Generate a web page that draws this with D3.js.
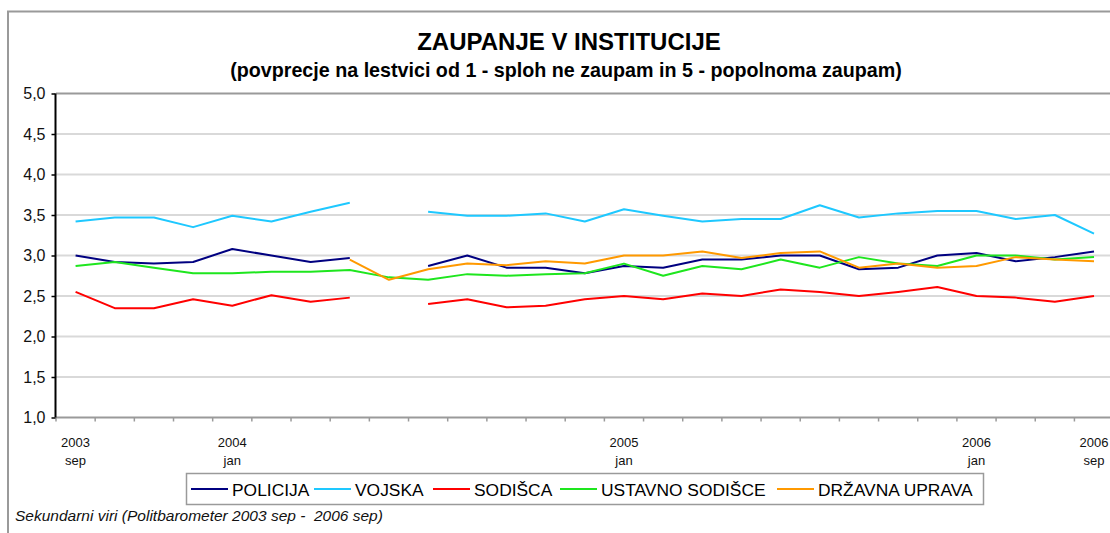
<!DOCTYPE html>
<html>
<head>
<meta charset="utf-8">
<script src="https://cdn.jsdelivr.net/npm/d3@7"></script>
<style>
  body { margin: 0; background: #fff; }
  svg { display: block; font-family: "Liberation Sans", Arial, sans-serif; }
</style>
</head>
<body>
<div id="vis"></div>
<script>

// survey waves, only some of them carry a label
const periods = d3.range(27)
const periodLabels = {0: ["2003", "sep"], 4: ["2004", "jan"], 14: ["2005", "jan"], 23: ["2006", "jan"], 26: ["2006", "sep"]}

const seriesNames = ["POLICIJA", "VOJSKA", "SODIŠCA", "USTAVNO SODIŠCE", "DRŽAVNA UPRAVA"]
const seriesColors = ["#000080", "#1ec8ff", "#ff0000", "#1ee61e", "#ff9900"]

const policija = [3.00, 2.92, 2.90, 2.92, 3.08, 3.00, 2.92, 2.97, null, 2.87, 3.00, 2.85, 2.85, 2.78, 2.87, 2.85, 2.95, 2.95, 3.00, 3.00, 2.83, 2.85, 3.00, 3.03, 2.93, 2.98, 3.05]
const vojska = [3.42, 3.47, 3.47, 3.35, 3.49, 3.42, 3.54, 3.65, null, 3.54, 3.49, 3.49, 3.52, 3.42, 3.57, 3.49, 3.42, 3.45, 3.45, 3.62, 3.47, 3.52, 3.55, 3.55, 3.45, 3.50, 3.27]
const sodisca = [2.55, 2.35, 2.35, 2.46, 2.38, 2.51, 2.43, 2.48, null, 2.40, 2.46, 2.36, 2.38, 2.46, 2.50, 2.46, 2.53, 2.50, 2.58, 2.55, 2.50, 2.55, 2.61, 2.50, 2.48, 2.43, 2.50]
const ustavno = [2.87, 2.92, 2.85, 2.78, 2.78, 2.80, 2.80, 2.82, 2.73, 2.70, 2.77, 2.75, 2.77, 2.78, 2.90, 2.75, 2.87, 2.83, 2.95, 2.85, 2.98, 2.90, 2.87, 3.00, 3.00, 2.95, 2.98]
const drzavna = [null, null, null, null, null, null, null, 2.95, 2.70, 2.83, 2.90, 2.88, 2.93, 2.90, 3.00, 3.00, 3.05, 2.97, 3.03, 3.05, 2.85, 2.90, 2.85, 2.87, 2.98, 2.95, 2.93]

const yTicks = [1.0, 1.5, 2.0, 2.5, 3.0, 3.5, 4.0, 4.5, 5.0]

const W = 1110, H = 533
const plot = {left: 56, top: 93.5, bottom: 417.5}
const bandW = 39.17
const plotRight = plot.left + bandW * periods.length

const svg = d3.select('#vis')
    .append('svg')
    .attr('width', W)
    .attr('height', H)

// outer chart frame (right and bottom edges fall outside the picture)
svg.append("rect")
    .attr("x", 8)
    .attr("y", 11.5)
    .attr("width", W + 20)
    .attr("height", H + 20)
    .attr("fill", "#fff")
    .attr("stroke", "#9a9a9a")
    .attr("stroke-width", 2)

svg.append("text")
    .attr("x", 569)
    .attr("y", 50)
    .attr("text-anchor", "middle")
    .style("font-size", "24px")
    .style("font-weight", "bold")
    .text("ZAUPANJE V INSTITUCIJE")

svg.append("text")
    .attr("x", 566)
    .attr("y", 77)
    .attr("text-anchor", "middle")
    .style("font-size", "19.7px")
    .style("font-weight", "bold")
    .text("(povprecje na lestvici od 1 - sploh ne zaupam in 5 - popolnoma zaupam)")

let xBand = d3.scaleBand()
    .domain(periods)
    .range([plot.left, plotRight])

let yScale = d3.scaleLinear()
    .domain([1, 5])
    .range([plot.bottom, plot.top])

// grid lines
svg.selectAll(".grid")
    .data(yTicks.filter(d => d > 1 && d < 5))
    .enter()
    .append("line")
    .attr("class", "grid")
    .attr("x1", plot.left)
    .attr("x2", plotRight)
    .attr("y1", d => yScale(d))
    .attr("y2", d => yScale(d))
    .attr("stroke", "#d9d9d9")
    .attr("stroke-width", 2)

// top border of plot area
svg.append("line")
    .attr("x1", plot.left)
    .attr("x2", plotRight)
    .attr("y1", yScale(5))
    .attr("y2", yScale(5))
    .attr("stroke", "#9a9a9a")
    .attr("stroke-width", 2)

// x axis
let xAxis = svg.append("g")
    .attr("transform", `translate(0,${plot.bottom})`)
xAxis.append("line")
    .attr("x1", plot.left)
    .attr("x2", plotRight)
    .attr("stroke", "#9a9a9a")
    .attr("stroke-width", 2)
xAxis.selectAll(".xtick")
    .data(periods.concat([periods.length]))
    .enter()
    .append("line")
    .attr("class", "xtick")
    .attr("x1", d => plot.left + d * xBand.step())
    .attr("x2", d => plot.left + d * xBand.step())
    .attr("y1", 0)
    .attr("y2", 4)
    .attr("stroke", "#9a9a9a")
    .attr("stroke-width", 1.5)

const labelled = periods.filter(p => periodLabels[p])
let xLabels = xAxis.selectAll(".xlabel")
    .data(labelled)
    .enter()
    .append("text")
    .attr("class", "xlabel")
    .attr("text-anchor", "middle")
    .style("font-size", "13px")
    .style("fill", "#111")
xLabels.append("tspan")
    .attr("x", d => xBand(d) + xBand.bandwidth() / 2)
    .attr("y", 29)
    .text(d => periodLabels[d][0])
xLabels.append("tspan")
    .attr("x", d => xBand(d) + xBand.bandwidth() / 2)
    .attr("y", 47)
    .text(d => periodLabels[d][1])

// y axis
let yAxis = svg.append("g")
    .attr("transform", `translate(${plot.left - 0.5},0)`)
    .call(d3.axisLeft(yScale).tickValues(yTicks).tickSize(4).tickFormat(d => d3.format(".1f")(d).replace(".", ",")))
yAxis.select(".domain")
    .attr("stroke", "#000")
    .attr("stroke-width", 2)
    .attr("d", `M0,${yScale(5)}V${yScale(1)}`)
yAxis.selectAll(".tick line").attr("stroke", "#000").attr("stroke-width", 1.5)
yAxis.selectAll(".tick text")
    .attr("x", -10)
    .style("font-size", "16px")
    .style("font-family", "Liberation Sans, Arial, sans-serif")
    .style("fill", "#111")

// series lines
const seriesValues = [policija, vojska, sodisca, ustavno, drzavna]
const line = d3.line()
    .defined(d => d.v !== null)
    .x(d => xBand(d.p) + xBand.bandwidth() / 2)
    .y(d => yScale(d.v))

svg.selectAll(".series")
    .data(seriesValues)
    .enter()
    .append("path")
    .attr("class", "series")
    .attr("d", vals => line(vals.map((v, i) => ({p: periods[i], v}))))
    .attr("fill", "none")
    .attr("stroke", (d, i) => seriesColors[i])
    .attr("stroke-width", 2)
    .attr("stroke-linejoin", "round")

// legend
const legendX = [191, 314, 433, 560, 777]
let legend = svg.append("g")
legend.append("rect")
    .attr("x", 186.5)
    .attr("y", 473.5)
    .attr("width", 797)
    .attr("height", 31)
    .attr("fill", "#fff")
    .attr("stroke", "#9a9a9a")
    .attr("stroke-width", 1.5)

let items = legend.selectAll(".item")
    .data(seriesNames)
    .enter()
    .append("g")
    .attr("class", "item")
    .attr("transform", (d, i) => `translate(${legendX[i]},489)`)
items.append("line")
    .attr("x1", 0)
    .attr("x2", 37)
    .attr("stroke", (d, i) => seriesColors[i])
    .attr("stroke-width", 2)
items.append("text")
    .attr("x", 41)
    .attr("y", 7)
    .style("font-size", "17.4px")
    .text(d => d)

svg.append("text")
    .attr("x", 15)
    .attr("y", 521)
    .style("font-size", "15.5px")
    .style("font-style", "italic")
    .style("fill", "#111")
    .style("white-space", "pre")
    .text("Sekundarni viri (Politbarometer 2003 sep -  2006 sep)")

</script>
</body>
</html>
